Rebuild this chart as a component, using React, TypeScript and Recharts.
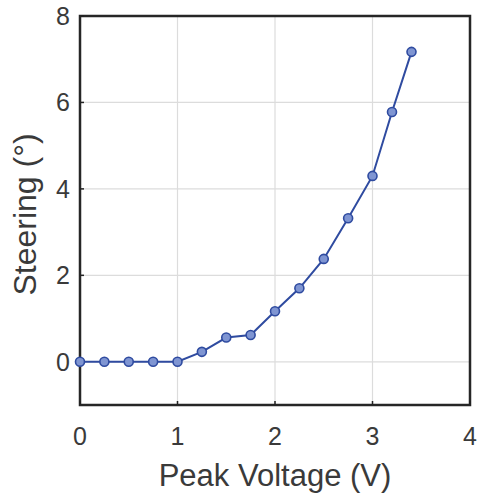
import React from 'react';
import { LineChart, Line, XAxis, YAxis, CartesianGrid, ReferenceArea } from 'recharts';

// Peak voltage (V) vs. steering angle (deg)
const voltage = [0, 0.25, 0.5, 0.75, 1, 1.25, 1.5, 1.75, 2, 2.25, 2.5, 2.75, 3, 3.2, 3.4];
const steering = [0, 0, 0, 0, 0, 0.23, 0.56, 0.62, 1.17, 1.7, 2.38, 3.32, 4.3, 5.78, 7.17];

const xTicks = [0, 1, 2, 3, 4];
const yTicks = [0, 2, 4, 6, 8];

const data = voltage.map((v, i) => ({ v, s: steering[i] }));

const font = 'Liberation Sans, Arial, Helvetica, sans-serif';
const lineBlue = '#2f4ba0';
const textGray = '#3a3a3a';

export default function App() {
  return (
    <div style={{ position: 'absolute', left: 0, top: 0, background: '#fff' }}>
      <LineChart
        width={478}
        height={498}
        data={data}
        margin={{ top: 16, right: 8, left: 0, bottom: 0 }}
        style={{ fontFamily: font }}
      >
        <CartesianGrid stroke="#dcdcdc" strokeWidth={1.2} />
        <XAxis
          type="number"
          dataKey="v"
          domain={[0, 4]}
          ticks={xTicks}
          height={93}
          axisLine={false}
          tickLine={{ stroke: '#222', strokeWidth: 1.5 }}
          tickSize={-4}
          tickMargin={26}
          tick={{ fontSize: 25, fill: textGray }}
          label={{ value: 'Peak Voltage (V)', position: 'insideBottom', offset: 12, style: { fontSize: 31, fill: textGray } }}
        />
        <YAxis
          type="number"
          domain={[-1, 8]}
          ticks={yTicks}
          width={80}
          axisLine={false}
          tickLine={{ stroke: '#222', strokeWidth: 1.5 }}
          tickSize={-4}
          tickMargin={14}
          tick={{ fontSize: 25, fill: textGray }}
          label={{ value: 'Steering (°)', angle: -90, position: 'insideLeft', offset: 25, dy: 4, style: { fontSize: 32, fill: textGray, textAnchor: 'middle' } }}
        />
        <ReferenceArea x1={0} x2={4} y1={-1} y2={8} fill="none" stroke="#262626" strokeWidth={2.5} ifOverflow="visible" />
        <Line
          type="linear"
          dataKey="s"
          stroke={lineBlue}
          strokeWidth={2}
          dot={{ r: 4.5, stroke: lineBlue, strokeWidth: 1.6, fill: '#7f95d2', fillOpacity: 1 }}
          isAnimationActive={false}
        />
      </LineChart>
    </div>
  );
}
